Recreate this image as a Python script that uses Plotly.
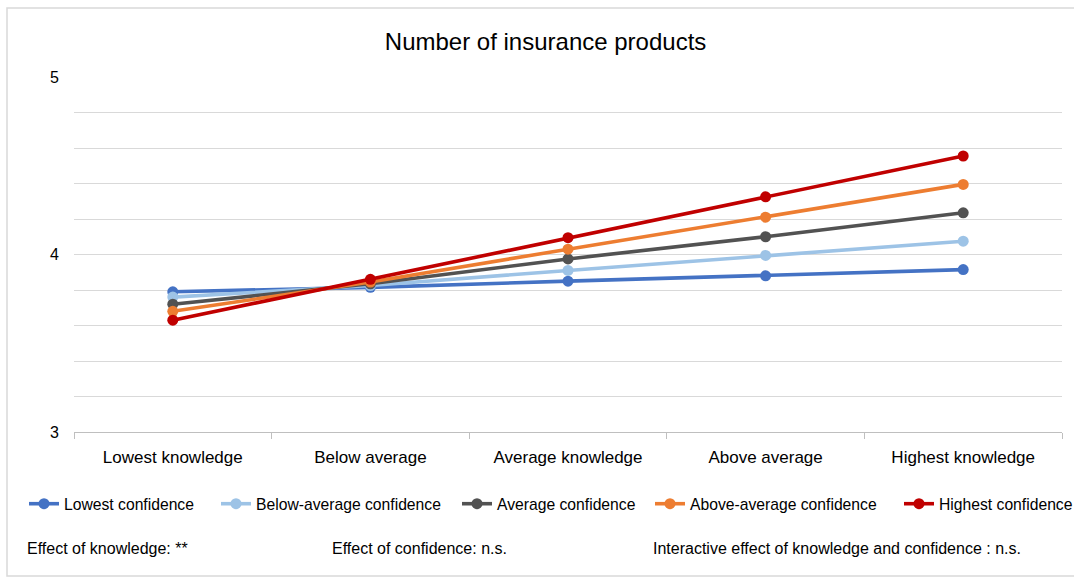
import plotly.graph_objects as go

# Knowledge levels on the x axis
knowledge = ["Lowest knowledge", "Below average", "Average knowledge",
             "Above average", "Highest knowledge"]

# Mean number of insurance products per confidence group
lowest_conf = [3.79, 3.815, 3.85, 3.88, 3.915]
below_avg_conf = [3.76, 3.825, 3.91, 3.995, 4.075]
average_conf = [3.72, 3.835, 3.975, 4.10, 4.235]
above_avg_conf = [3.68, 3.845, 4.03, 4.21, 4.395]
highest_conf = [3.63, 3.86, 4.095, 4.325, 4.555]

series_names = ["Lowest confidence", "Below-average confidence", "Average confidence",
                "Above-average confidence", "Highest confidence"]
series_values = [lowest_conf, below_avg_conf, average_conf, above_avg_conf, highest_conf]
series_colors = ["#4472C4", "#9DC3E6", "#525252", "#ED7D31", "#C00000"]

y_ticks = [3, 4, 5]

notes = ["Effect of knowledge: **", "Effect of confidence: n.s.",
         "Interactive effect of knowledge and confidence : n.s."]

FONT = "Liberation Sans, Arial, sans-serif"

W, H = 1074, 579
L, R, T, B = 74, 12, 77, 147
pw, ph = W - L - R, H - T - B


def px_x(x):
    return (x - L) / pw


def px_y(y):
    return (H - B - y) / ph


# Each series gets its own one-entry legend so the row spacing can be set freely
legend_ids = ["legend", "legend2", "legend3", "legend4", "legend5"]
legend_left = [24, 216, 457, 650, 899]

fig = go.Figure()
for name, vals, col, lid in zip(series_names, series_values, series_colors, legend_ids):
    fig.add_trace(go.Scatter(
        x=knowledge, y=vals, name=name, mode="lines+markers",
        line=dict(color=col, width=3.6),
        marker=dict(color=col, size=11),
        legend=lid,
    ))

note_x = [25, 330, 651]
annotations = [
    dict(text=t, x=px_x(x), y=px_y(548), xref="paper", yref="paper",
         xanchor="left", yanchor="middle", showarrow=False,
         font=dict(family=FONT, size=16, color="#000000"))
    for t, x in zip(notes, note_x)
]

legends = {
    lid: dict(orientation="h", x=px_x(lx), xanchor="left",
              y=px_y(504), yanchor="middle",
              font=dict(family=FONT, size=15.7, color="#000000"),
              bgcolor="rgba(0,0,0,0)", itemwidth=30)
    for lid, lx in zip(legend_ids, legend_left)
}

fig.update_layout(
    width=W, height=H,
    margin=dict(l=L, r=R, t=T, b=B, autoexpand=False),
    paper_bgcolor="white", plot_bgcolor="white",
    title=dict(text="Number of insurance products", x=0.508, xanchor="center",
               y=1 - 42 / H, yanchor="middle", yref="container",
               font=dict(family=FONT, size=24, color="#000000")),
    font=dict(family=FONT, size=16, color="#000000"),
    showlegend=True,
    annotations=annotations,
    shapes=[dict(type="rect", xref="paper", yref="paper",
                 x0=px_x(7), x1=px_x(1300), y0=px_y(576), y1=px_y(8),
                 line=dict(color="#d9d9d9", width=1.5), layer="below")],
    **legends,
)

fig.update_xaxes(
    type="category", range=[-0.5, 4.5],
    showline=True, linecolor="#bfbfbf", linewidth=1,
    ticks="outside", tickson="boundaries", ticklen=6, tickcolor="#bfbfbf",
    showgrid=False, zeroline=False, ticklabelstandoff=10,
    tickfont=dict(family=FONT, size=17, color="#000000"),
)
fig.update_yaxes(
    range=[3, 5], tickvals=y_ticks, ticktext=[str(v) for v in y_ticks],
    showgrid=True, gridcolor="#d9d9d9", gridwidth=1,
    minor=dict(dtick=0.2, tick0=3, showgrid=True, gridcolor="#d9d9d9", gridwidth=1),
    zeroline=False, showline=False, ticks="", ticklabelstandoff=14,
    tickfont=dict(family=FONT, size=16, color="#000000"),
)

fig.write_html("out.html")
